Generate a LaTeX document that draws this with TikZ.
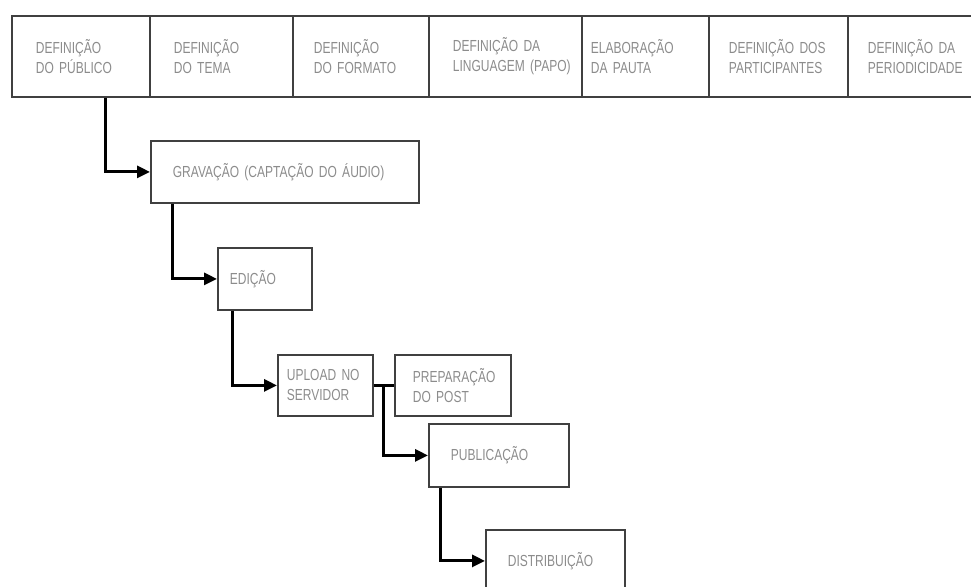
\documentclass[tikz,border=0pt]{standalone}
\usepackage{fontspec}
\setmainfont{Liberation Sans}[FakeStretch=0.75]
\usetikzlibrary{arrows.meta,calc}
\begin{document}
\begin{tikzpicture}[x=1pt,y=-1pt,
  box/.style n args={3}{draw=black!75, line width=1.8pt, anchor=north west,
    minimum height=#2, text width=#1, inner xsep=0pt, inner ysep=0pt,
    align=left, execute at begin node={\leftskip=#3pt\relax},
    font=\fontsize{16}{20}\selectfont, text=black!45},
  flow/.style={-{Triangle[length=13pt,width=12pt]}, line width=3pt, black}]
\useasboundingbox (0,0) rectangle (971,586);
\clip (0,0) rectangle (971,586);
% top row
\node[box={138}{81}{24}] (c1) at (11,15) {DEFINIÇÃO\\DO PÚBLICO};
\node[box={143}{81}{24}] (c2) at (149,15) {DEFINIÇÃO\\DO TEMA};
\node[box={136}{81}{21}] (c3) at (292,15) {DEFINIÇÃO\\DO FORMATO};
\node[box={153}{81}{24}] (c4) at (428,15) {DEFINIÇÃO DA\\\mbox{LINGUAGEM (PAPO)}};
\node[box={127}{81}{9}] (c5) at (581,15) {ELABORAÇÃO\\DA PAUTA};
\node[box={139}{81}{20}] (c6) at (708,15) {DEFINIÇÃO DOS\\PARTICIPANTES};
\node[box={140}{81}{20}] (c7) at (847,15) {DEFINIÇÃO DA\\PERIODICIDADE};
% flow boxes
\node[box={268}{62}{22}] (grav) at (150,140) {GRAVAÇÃO (CAPTAÇÃO DO ÁUDIO)};
\node[box={94}{62}{12}] (edi) at (217,247) {EDIÇÃO};
\node[box={95}{61}{9}] (up) at (277,354) {UPLOAD NO\\SERVIDOR};
\node[box={116}{61}{18}] (prep) at (394,354) {PREPARAÇÃO\\DO POST};
\node[box={140}{63}{22}] (pub) at (428,423) {PUBLICAÇÃO};
\node[box={139}{62}{22}] (dist) at (485,529) {DISTRIBUIÇÃO};
% connectors
\draw[flow] ($(c1.south west)+(94,0)$) |- (grav.west);
\draw[flow] ($(grav.south west)+(22,0)$) |- (edi.west);
\draw[flow] ($(edi.south west)+(15,0)$) |- (up.west);
\draw[line width=2.2pt] (up.east) -- (prep.west);
\coordinate (j) at ($(up.east)!0.5!(prep.west)$);
\draw[flow] (j) |- (pub.west);
\draw[flow] ($(pub.south west)+(12,0)$) |- (dist.west);
\end{tikzpicture}
\end{document}
